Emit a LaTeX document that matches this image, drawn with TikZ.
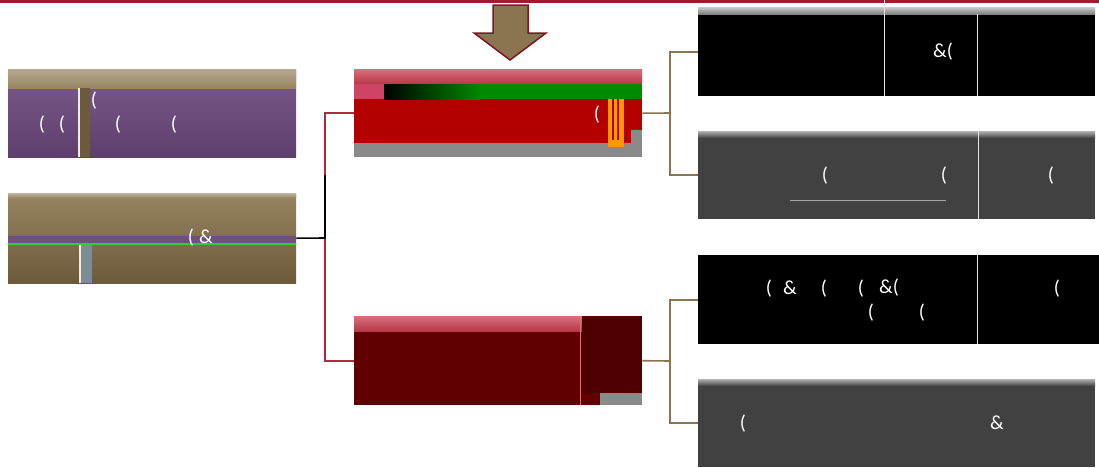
\documentclass[tikz,border=0pt]{standalone}
\usepackage{fontspec}
\setmainfont{Carlito}
\definecolor{topred}{HTML}{A01A30}
\definecolor{connbrown}{HTML}{8B7550}
\definecolor{connred}{HTML}{B32A3E}
\definecolor{tanT}{HTML}{978462}
\definecolor{tanB}{HTML}{6C5A3B}
\definecolor{purT}{HTML}{7C5B8C}
\definecolor{purB}{HTML}{5E3E6C}
\definecolor{redC}{HTML}{B30000}
\definecolor{greenC}{HTML}{008A00}
\definecolor{pinkT}{HTML}{D9707C}
\definecolor{pinkB}{HTML}{B83848}
\definecolor{maroonD}{HTML}{600000}
\definecolor{darkG}{HTML}{414141}
\definecolor{greyS}{HTML}{8A8A8A}
\definecolor{barB}{HTML}{7A8C96}
\begin{document}
\begin{tikzpicture}[x=1pt,y=-1pt,
  box/.style={rectangle, anchor=north west, inner sep=0pt, draw=none},
  glyph/.style={text=white, font=\fontsize{20}{22}\selectfont, inner sep=0pt},
  conn/.style={line width=1.6pt, draw=connbrown},
  connr/.style={line width=1.6pt, draw=connred},
  connk/.style={line width=1.6pt, draw=black},
  vline/.style={line width=1pt, draw=white!80!gray}]
\useasboundingbox (0,0) rectangle (1099,467);
\fill[white] (0,0) rectangle (1099,467);
% top rule
\fill[topred] (0,0) rectangle (1099,3);
% arrow
\draw[fill=connbrown, draw=topred!80!black, line width=1.5pt, line join=miter]
  (493,5) -- (528,5) -- (528,33) -- (546,33) -- (510,60) -- (474,33) -- (493,33) -- cycle;

% ---- Box A (purple)
\node[box, minimum width=288pt, minimum height=88pt, top color=purT, bottom color=purB] (A) at (8,69) {};
\shade[top color=tanT!70!white, bottom color=tanT] (8,69) rectangle (296,88);
\fill[tanB] (80,88) rectangle (90,157);
\fill[white!85!tanT] (78,88) rectangle (80,157);
\node[glyph] (a1) at (42,125) {(};
\node[glyph] (a2) at (62,125) {(};
\node[glyph] (a3) at (118,125) {(};
\node[glyph] (a4) at (174,125) {(};
\node[glyph] (a5) at (94,101) {(};

% ---- Box B (tan)
\node[box, minimum width=288pt, minimum height=90pt, top color=tanT, bottom color=tanB] (B) at (8,193) {};
\shade[top color=tanT!60!white, bottom color=tanT] (8,193) rectangle (296,198);
\fill[purB!90!white] (8,236) rectangle (296,243);
\fill[green!60!gray] (8,243) rectangle (296,245);
\fill[barB] (81,245) rectangle (92,283);
\fill[white!85!tanT] (79,245) rectangle (81,283);
\node[glyph] (b1) at (191,238) {(};
\node[glyph] (b2) at (206,237) {\&};

% ---- Box C (red)
\node[box, minimum width=288pt, minimum height=88pt, fill=redC] (C) at (354,69) {};
\shade[top color=pinkT, bottom color=pinkB] (354,69) rectangle (642,84);
\shade[left color=black, right color=greenC] (384,84) rectangle (480,99);
\fill[greenC] (480,84) rectangle (642,99);
\fill[pinkT!60!purple] (354,84) rectangle (384,99);
\fill[greyS] (354,143) rectangle (642,157);
\fill[greyS] (631,130) rectangle (642,143);
\fill[orange!80!yellow] (608,99) rectangle (624,147);
\fill[redC] (612,99) rectangle (614,140);
\fill[redC] (617,99) rectangle (619,140);
\node[glyph] (c1) at (597,115) {(};

% ---- Box D (maroon)
\node[box, minimum width=288pt, minimum height=89pt, fill=maroonD] (D) at (354,316) {};
\shade[top color=pinkT, bottom color=pinkB] (354,316) rectangle (582,331);
\fill[maroonD!80!black] (582,316) rectangle (642,393);
\draw[line width=1pt, draw=pinkT] (580,316) -- (580,405);
\fill[greyS] (600,393) rectangle (642,405);

% ---- Right boxes
\node[box, minimum width=397pt, minimum height=89pt, fill=black] (E) at (698,7) {};
\shade[top color=gray!40, bottom color=gray] (698,7) rectangle (1095,14);
\draw[vline] (884,0) -- (884,96);
\draw[vline] (977,14) -- (977,96);
\node[glyph] (e1) at (943,52) {\&(};

\node[box, minimum width=397pt, minimum height=88pt, fill=darkG] (F) at (698,131) {};
\shade[top color=gray!60, bottom color=darkG] (698,131) rectangle (1095,138);
\draw[vline] (978,131) -- (978,219);
\draw[line width=1pt, draw=gray!70] (790,200) -- (946,200);
\node[glyph] (f1) at (825,176) {(};
\node[glyph] (f2) at (944,176) {(};
\node[glyph] (f3) at (1051,176) {(};

\node[box, minimum width=401pt, minimum height=89pt, fill=black] (G) at (698,255) {};
\draw[vline] (977,255) -- (977,344);
\node[glyph] (g1) at (769,289) {(};
\node[glyph] (g2) at (790,288) {\&};
\node[glyph] (g3) at (824,289) {(};
\node[glyph] (g4) at (861,289) {(};
\node[glyph] (g5) at (889,288) {\&(};
\node[glyph] (g6) at (871,313) {(};
\node[glyph] (g7) at (922,313) {(};
\node[glyph] (g8) at (1057,289) {(};

\node[box, minimum width=397pt, minimum height=88pt, fill=darkG] (H) at (698,379) {};
\shade[top color=gray!60, bottom color=darkG] (698,379) rectangle (1095,386);
\node[glyph] (h1) at (743,424) {(};
\node[glyph] (h2) at (997,423) {\&};

% ---- connectors
\coordinate (jB) at (325,238);
\coordinate (jBk) at (325,175);
\coordinate (jC) at (670,113);
\coordinate (jD) at (670,361);
\draw[connr] (jB) |- (C.west);
\draw[connr] (jB) |- (D.west);
\draw[connk] (B.east) -- (jB) -- (jBk);
\draw[conn] (C.east) -- (jC);
\draw[conn] (jC) |- (E.west);
\draw[conn] (jC) |- (F.west);
\draw[conn] (D.east) -- (jD);
\draw[conn] (jD) |- (G.west);
\draw[conn] (jD) |- (H.west);
\end{tikzpicture}
\end{document}
